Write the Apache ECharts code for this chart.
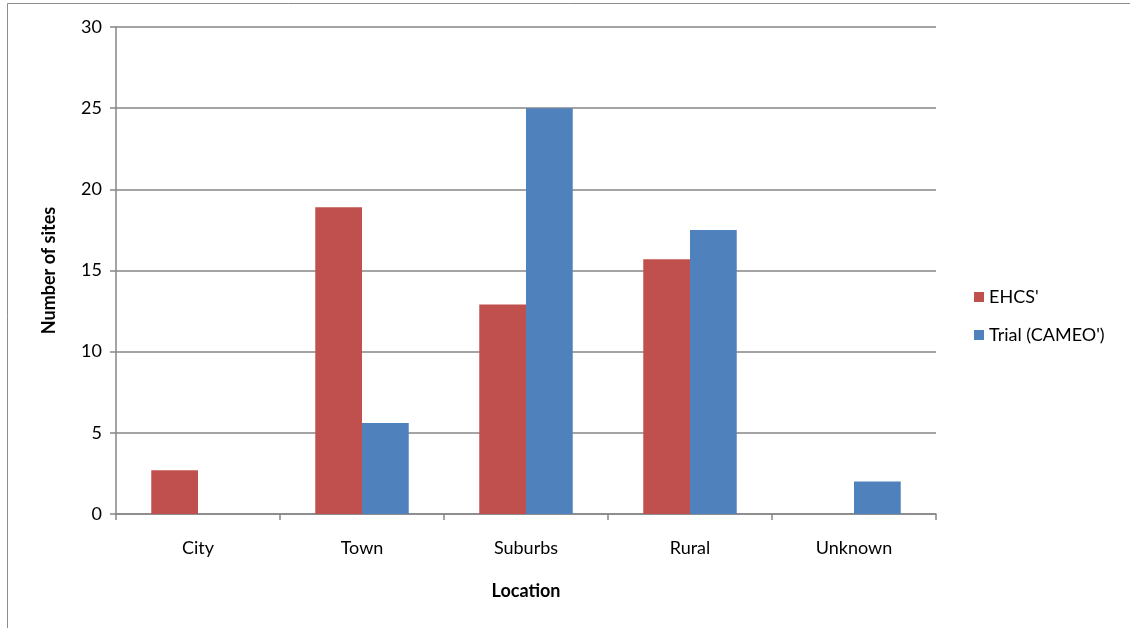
<!DOCTYPE html>
<html>
<head>
<meta charset="utf-8">
<script src="https://cdn.jsdelivr.net/npm/echarts@6/dist/echarts.min.js"></script>
<style>html,body{margin:0;padding:0;background:#fff}#c{width:1130px;height:628px}</style>
</head>
<body>
<div id="c"></div>
<script>
const categories = ['City', 'Town', 'Suburbs', 'Rural', 'Unknown'];
const ehcs = [2.7, 18.9, 12.9, 15.7, 0];
const trial = [0, 5.6, 25.0, 17.5, 2.0];
const seriesNames = ["EHCS'", "Trial (CAMEO')"];
const yTicks = { min: 0, max: 30, interval: 5 };

const font = 'Lato, "Open Sans", sans-serif';
const fs = 18;
const chart = echarts.init(document.getElementById('c'), null, { renderer: 'canvas' });
chart.setOption({
  animation: false,
  backgroundColor: '#fff',
  textStyle: { fontFamily: font },
  graphic: [{
    type: 'rect', shape: { x: 7.5, y: 3.5, width: 1200, height: 700 },
    style: { fill: 'none', stroke: '#8c8c8c', lineWidth: 1 }, silent: true
  }],
  legend: {
    orient: 'vertical', left: 969, top: 283, itemGap: 20,
    itemWidth: 10, itemHeight: 10, icon: 'rect',
    textStyle: { fontSize: fs, color: '#000', fontFamily: font },
    data: seriesNames
  },
  grid: { left: 116, right: 194, top: 27, bottom: 114, containLabel: false },
  xAxis: {
    type: 'category', data: categories,
    name: 'Location', nameLocation: 'middle', nameGap: 68,
    nameTextStyle: { fontSize: fs, fontWeight: 'bold', color: '#000', fontFamily: font },
    axisLine: { lineStyle: { color: '#868686', width: 1.5 } },
    axisTick: { show: true, length: 6, alignWithLabel: false, lineStyle: { color: '#868686', width: 1.5 } },
    axisLabel: { fontSize: fs, color: '#000', margin: 25, fontFamily: font }
  },
  yAxis: {
    type: 'value', min: yTicks.min, max: yTicks.max, interval: yTicks.interval,
    name: 'Number of sites', nameLocation: 'middle', nameGap: 58, nameRotate: 90,
    nameTextStyle: { fontSize: fs, fontWeight: 'bold', color: '#000', fontFamily: font },
    axisLine: { show: true, lineStyle: { color: '#868686', width: 1.5 } },
    axisTick: { show: true, length: 6, inside: false, lineStyle: { color: '#868686', width: 1.5 } },
    axisLabel: { fontSize: fs, color: '#000', margin: 14, fontFamily: font },
    splitLine: { show: true, lineStyle: { color: '#868686', width: 1.5 } }
  },
  series: [
    { name: seriesNames[0], type: 'bar', data: ehcs, barGap: '0%', barCategoryGap: '43%',
      itemStyle: { color: '#C0504D' } },
    { name: seriesNames[1], type: 'bar', data: trial, barGap: '0%', barCategoryGap: '43%',
      itemStyle: { color: '#4F81BD' } }
  ]
});
</script>
</body>
</html>
